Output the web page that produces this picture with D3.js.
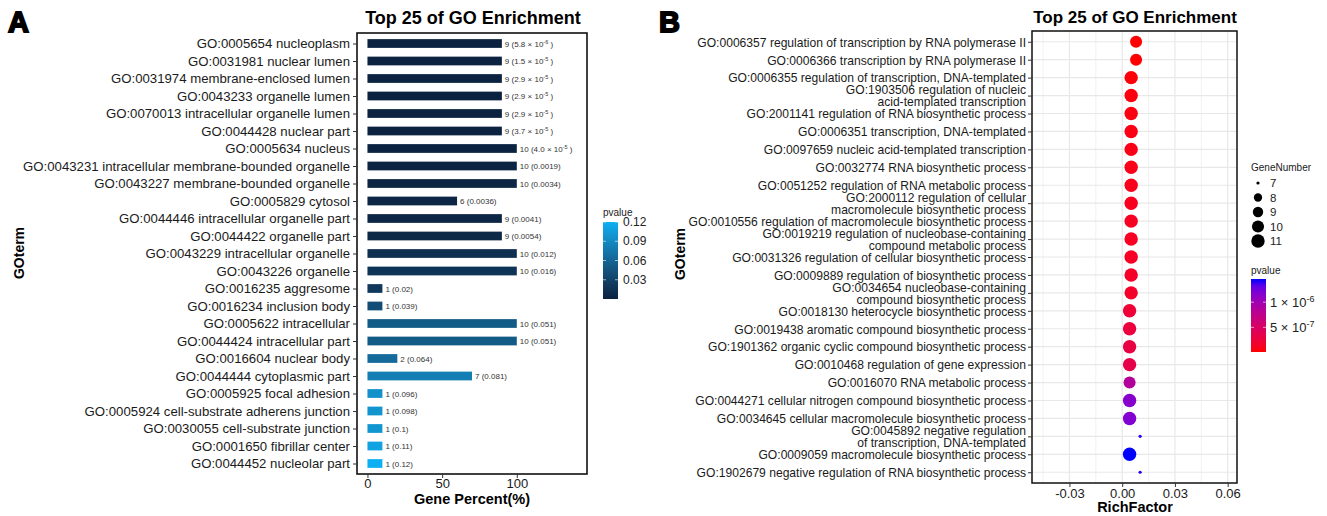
<!doctype html>
<html>
<head>
<meta charset="utf-8">
<style>
  body { margin: 0; background: #fff; }
  svg text { font-family: "Liberation Sans", Arial, sans-serif; }
  .tick line { stroke: #333; }
  .tick text { fill: #1a1a1a; }
</style>
<script src="https://d3js.org/d3.v7.min.js"></script>
</head>
<body>
<svg width="1327" height="516"></svg>
<script>
// ---- panel A data ----
var termsA = [
  "GO:0005654 nucleoplasm", "GO:0031981 nuclear lumen", "GO:0031974 membrane-enclosed lumen",
  "GO:0043233 organelle lumen", "GO:0070013 intracellular organelle lumen", "GO:0044428 nuclear part",
  "GO:0005634 nucleus", "GO:0043231 intracellular membrane-bounded organelle", "GO:0043227 membrane-bounded organelle",
  "GO:0005829 cytosol", "GO:0044446 intracellular organelle part", "GO:0044422 organelle part",
  "GO:0043229 intracellular organelle", "GO:0043226 organelle", "GO:0016235 aggresome",
  "GO:0016234 inclusion body", "GO:0005622 intracellular", "GO:0044424 intracellular part",
  "GO:0016604 nuclear body", "GO:0044444 cytoplasmic part", "GO:0005925 focal adhesion",
  "GO:0005924 cell-substrate adherens junction", "GO:0030055 cell-substrate junction",
  "GO:0001650 fibrillar center", "GO:0044452 nucleolar part"
];
var countsA = [9, 9, 9, 9, 9, 9, 10, 10, 10, 6, 9, 9, 10, 10, 1, 1, 10, 10, 2, 7, 1, 1, 1, 1, 1];
var percentA = [90, 90, 90, 90, 90, 90, 100, 100, 100, 60, 90, 90, 100, 100, 10, 10, 100, 100, 20, 70, 10, 10, 10, 10, 10];
var pvalsA = [5.8e-6, 1.5e-5, 2.9e-5, 2.9e-5, 2.9e-5, 3.7e-5, 4.0e-5, 0.0019, 0.0034, 0.0036, 0.0041, 0.0054,
  0.012, 0.016, 0.02, 0.039, 0.051, 0.051, 0.064, 0.081, 0.096, 0.098, 0.1, 0.11, 0.12];
var xTicksA = [0, 50, 100];
var legTicksA = [0.03, 0.06, 0.09, 0.12];

// ---- panel B data ----
var termsB = [
  "GO:0006357 regulation of transcription by RNA polymerase II",
  "GO:0006366 transcription by RNA polymerase II",
  "GO:0006355 regulation of transcription, DNA-templated",
  "GO:1903506 regulation of nucleic|acid-templated transcription",
  "GO:2001141 regulation of RNA biosynthetic process",
  "GO:0006351 transcription, DNA-templated",
  "GO:0097659 nucleic acid-templated transcription",
  "GO:0032774 RNA biosynthetic process",
  "GO:0051252 regulation of RNA metabolic process",
  "GO:2000112 regulation of cellular|macromolecule biosynthetic process",
  "GO:0010556 regulation of macromolecule biosynthetic process",
  "GO:0019219 regulation of nucleobase-containing|compound metabolic process",
  "GO:0031326 regulation of cellular biosynthetic process",
  "GO:0009889 regulation of biosynthetic process",
  "GO:0034654 nucleobase-containing|compound biosynthetic process",
  "GO:0018130 heterocycle biosynthetic process",
  "GO:0019438 aromatic compound biosynthetic process",
  "GO:1901362 organic cyclic compound biosynthetic process",
  "GO:0010468 regulation of gene expression",
  "GO:0016070 RNA metabolic process",
  "GO:0044271 cellular nitrogen compound biosynthetic process",
  "GO:0034645 cellular macromolecule biosynthetic process",
  "GO:0045892 negative regulation|of transcription, DNA-templated",
  "GO:0009059 macromolecule biosynthetic process",
  "GO:1902679 negative regulation of RNA biosynthetic process"
];
var richB = [0.0079, 0.0079, 0.0051, 0.0051, 0.0051, 0.0051, 0.0051, 0.0051, 0.0051, 0.0051, 0.0051, 0.0051,
  0.0051, 0.0051, 0.0051, 0.0042, 0.0042, 0.0042, 0.0042, 0.0042, 0.0042, 0.0042, 0.0102, 0.0042, 0.0102];
var genesB = [10, 10, 11, 11, 11, 11, 11, 11, 11, 11, 11, 11, 11, 11, 11, 11, 11, 11, 11, 10, 11, 11, 7, 11, 7];
var pvalsB = [1e-8, 1.5e-8, 3e-8, 4e-8, 5e-8, 6e-8, 7e-8, 8e-8, 9e-8, 1e-7, 1.1e-7, 1.2e-7, 1.3e-7, 1.4e-7, 1.5e-7,
  2.2e-7, 2.6e-7, 3e-7, 3.4e-7, 8.5e-7, 1.15e-6, 1.18e-6, 1.43e-6, 1.46e-6, 1.44e-6];
var xTicksB = [-0.03, 0, 0.03, 0.06];
var xMinorB = [-0.045, -0.015, 0.015, 0.045];
var sizeBreaksB = [7, 8, 9, 10, 11];
var legTicksB = [5e-7, 1e-6];

var svg = d3.select("svg");

function sup(sel, base, exp, tail, shift, size) {
  sel.append("tspan").text(base);
  sel.append("tspan").attr("dy", -shift).attr("font-size", size).text(exp);
  if (tail) sel.append("tspan").attr("dy", shift).text(tail);
}

// ================= panel A =================
var xA = d3.scaleLinear().domain([-7, 147]).range([357, 587]);
var yA = d3.scalePoint().domain(termsA).range([33, 474]).padding(0.6);
var pExtA = d3.extent(pvalsA);
var colA = d3.scaleLinear().domain(pExtA).range(["#0b2340", "#0cb0f2"]).interpolate(d3.interpolateLab);

svg.append("text").attr("x", 8).attr("y", 32).attr("font-size", 29).attr("font-weight", "bold")
   .attr("stroke", "#000").attr("stroke-width", 1.8).text("A");

svg.append("text").attr("x", 473).attr("y", 24).attr("text-anchor", "middle")
   .attr("font-size", 18).attr("font-weight", "bold").text("Top 25 of GO Enrichment");

var dataA = termsA.map(function(t, i) {
  return { term: t, count: countsA[i], pct: percentA[i], p: pvalsA[i] };
});

var bh = yA.step() * 0.5;
svg.append("g").selectAll("rect").data(dataA).enter().append("rect")
   .attr("x", xA(0))
   .attr("y", function(d) { return yA(d.term) - bh / 2; })
   .attr("width", function(d) { return xA(d.pct) - xA(0); })
   .attr("height", bh)
   .attr("fill", function(d) { return colA(d.p); });

svg.append("g").selectAll("text").data(dataA).enter().append("text")
   .attr("x", function(d) { return xA(d.pct) + 3; })
   .attr("y", function(d) { return yA(d.term) + 3; })
   .attr("font-size", 8).attr("fill", "#333")
   .each(function(d) {
     var t = d3.select(this);
     if (d.p < 1e-4) {
       var e = Math.floor(Math.log10(d.p));
       var m = (d.p / Math.pow(10, e)).toFixed(1);
       sup(t, d.count + " (" + m + " \u00d7 10", String(e), " )", 3, 5.5);
     } else {
       t.text(d.count + " (" + d.p + ")");
     }
   });

svg.append("rect").attr("x", 357).attr("y", 33).attr("width", 230).attr("height", 441)
   .attr("fill", "none").attr("stroke", "#111").attr("stroke-width", 1.6);

svg.append("g").attr("transform", "translate(357,0)")
   .call(d3.axisLeft(yA).tickSize(4).tickPadding(3))
   .call(function(g) { g.select(".domain").remove(); })
   .selectAll("text").attr("font-size", 13.2);

svg.append("g").attr("transform", "translate(0,474)")
   .call(d3.axisBottom(xA).tickValues(xTicksA).tickSize(4).tickPadding(1))
   .call(function(g) { g.select(".domain").remove(); })
   .selectAll("text").attr("font-size", 13);

svg.append("text").attr("x", 472).attr("y", 504).attr("text-anchor", "middle")
   .attr("font-size", 14.5).attr("font-weight", "bold").text("Gene Percent(%)");

svg.append("text").attr("transform", "translate(24,253) rotate(-90)").attr("text-anchor", "middle")
   .attr("font-size", 14).attr("font-weight", "bold").text("GOterm");

// legend A
var defs = svg.append("defs");
var gradA = defs.append("linearGradient").attr("id", "gradA")
   .attr("x1", 0).attr("y1", 1).attr("x2", 0).attr("y2", 0);
d3.range(0, 1.01, 0.1).forEach(function(f) {
  gradA.append("stop").attr("offset", f)
       .attr("stop-color", colA(pExtA[0] + f * (pExtA[1] - pExtA[0])));
});
var legA = d3.scaleLinear().domain(pExtA).range([299, 222]);
svg.append("text").attr("x", 603).attr("y", 216).attr("font-size", 10).attr("fill", "#222").text("pvalue");
svg.append("rect").attr("x", 603).attr("y", 222).attr("width", 15).attr("height", 77).attr("fill", "url(#gradA)");
legTicksA.forEach(function(v) {
  svg.append("line").attr("x1", 603).attr("x2", 606).attr("y1", legA(v)).attr("y2", legA(v))
     .attr("stroke", "#fff").attr("stroke-opacity", 0.6);
  svg.append("line").attr("x1", 615).attr("x2", 618).attr("y1", legA(v)).attr("y2", legA(v))
     .attr("stroke", "#fff").attr("stroke-opacity", 0.6);
  svg.append("text").attr("x", 623).attr("y", legA(v) + 4).attr("font-size", 12).attr("fill", "#222")
     .text(d3.format(".2f")(v));
});

// ================= panel B =================
var xB = d3.scaleLinear().domain([-0.0513, 0.0653]).range([1032, 1237]);
var yB = d3.scalePoint().domain(termsB).range([31, 483]).padding(0.6);
var pExtB = d3.extent(pvalsB);
var colB = d3.scaleLinear().domain(pExtB).range(["#ff0000", "#0000ff"]).interpolate(d3.interpolateLab);
function radius(n) { return 1.6 + 5.1 * Math.sqrt((n - 7) / 4); }

svg.append("text").attr("x", 659).attr("y", 32).attr("font-size", 29).attr("font-weight", "bold")
   .attr("stroke", "#000").attr("stroke-width", 1.8).text("B");

svg.append("text").attr("x", 1135).attr("y", 23).attr("text-anchor", "middle")
   .attr("font-size", 17).attr("font-weight", "bold").text("Top 25 of GO Enrichment");

var grid = svg.append("g");
xMinorB.forEach(function(v) {
  grid.append("line").attr("x1", xB(v)).attr("x2", xB(v)).attr("y1", 31).attr("y2", 483)
      .attr("stroke", "#ededed").attr("stroke-width", 0.8);
});
xTicksB.forEach(function(v) {
  grid.append("line").attr("x1", xB(v)).attr("x2", xB(v)).attr("y1", 31).attr("y2", 483)
      .attr("stroke", "#e8e8e8").attr("stroke-width", 1.2);
});
termsB.forEach(function(t) {
  grid.append("line").attr("x1", 1032).attr("x2", 1237).attr("y1", yB(t)).attr("y2", yB(t))
      .attr("stroke", "#e8e8e8").attr("stroke-width", 1.2);
});

var dataB = termsB.map(function(t, i) {
  return { term: t, rich: richB[i], n: genesB[i], p: pvalsB[i] };
});
svg.append("g").selectAll("circle").data(dataB).enter().append("circle")
   .attr("cx", function(d) { return xB(d.rich); })
   .attr("cy", function(d) { return yB(d.term); })
   .attr("r", function(d) { return radius(d.n); })
   .attr("fill", function(d) { return colB(d.p); });

svg.append("rect").attr("x", 1032).attr("y", 31).attr("width", 205).attr("height", 452)
   .attr("fill", "none").attr("stroke", "#111").attr("stroke-width", 1.5);

var yAxB = svg.append("g").attr("transform", "translate(1032,0)")
   .call(d3.axisLeft(yB).tickSize(4).tickPadding(3))
   .call(function(g) { g.select(".domain").remove(); });
yAxB.selectAll("text").attr("font-size", 12.1).each(function(d) {
  var lines = d.split("|");
  var t = d3.select(this).text(null).attr("dy", null);
  lines.forEach(function(l, k) {
    var off = (k - (lines.length - 1) / 2) * 12 + 4.3;
    t.append("tspan").attr("x", -6).attr("y", off).text(l);
  });
});

svg.append("g").attr("transform", "translate(0,483)")
   .call(d3.axisBottom(xB).tickValues(xTicksB).tickSize(4).tickPadding(2)
     .tickFormat(function(v) { return d3.format(".2f")(v).replace("\u2212", "-"); }))
   .call(function(g) { g.select(".domain").remove(); })
   .selectAll("text").attr("font-size", 13);

svg.append("text").attr("x", 1135).attr("y", 512).attr("text-anchor", "middle")
   .attr("font-size", 14.5).attr("font-weight", "bold").text("RichFactor");

svg.append("text").attr("transform", "translate(685,254) rotate(-90)").attr("text-anchor", "middle")
   .attr("font-size", 14).attr("font-weight", "bold").text("GOterm");

// size legend B
svg.append("text").attr("x", 1251).attr("y", 171).attr("font-size", 10).attr("fill", "#222").text("GeneNumber");
var legSize = d3.scalePoint().domain(sizeBreaksB).range([183, 241]);
sizeBreaksB.forEach(function(v) {
  svg.append("circle").attr("cx", 1258).attr("cy", legSize(v)).attr("r", radius(v)).attr("fill", "#000");
  svg.append("text").attr("x", 1270).attr("y", legSize(v) + 4).attr("font-size", 11.5).attr("fill", "#222").text(v);
});

// colour legend B
var gradB = defs.append("linearGradient").attr("id", "gradB")
   .attr("x1", 0).attr("y1", 1).attr("x2", 0).attr("y2", 0);
d3.range(0, 1.01, 0.1).forEach(function(f) {
  gradB.append("stop").attr("offset", f)
       .attr("stop-color", colB(pExtB[0] + f * (pExtB[1] - pExtB[0])));
});
var legB = d3.scaleLinear().domain(pExtB).range([352, 279]);
svg.append("text").attr("x", 1251).attr("y", 274).attr("font-size", 10).attr("fill", "#222").text("pvalue");
svg.append("rect").attr("x", 1251).attr("y", 279).attr("width", 15).attr("height", 73).attr("fill", "url(#gradB)");
legTicksB.forEach(function(v) {
  svg.append("line").attr("x1", 1251).attr("x2", 1254).attr("y1", legB(v)).attr("y2", legB(v))
     .attr("stroke", "#fff").attr("stroke-opacity", 0.6);
  svg.append("line").attr("x1", 1263).attr("x2", 1266).attr("y1", legB(v)).attr("y2", legB(v))
     .attr("stroke", "#fff").attr("stroke-opacity", 0.6);
  var e = Math.floor(Math.log10(v));
  var m = Math.round(v / Math.pow(10, e));
  var t = svg.append("text").attr("x", 1270).attr("y", legB(v) + 5).attr("font-size", 13).attr("fill", "#222");
  sup(t, m + " \u00d7 10", String(e), null, 5, 9);
});
</script>
</body>
</html>
